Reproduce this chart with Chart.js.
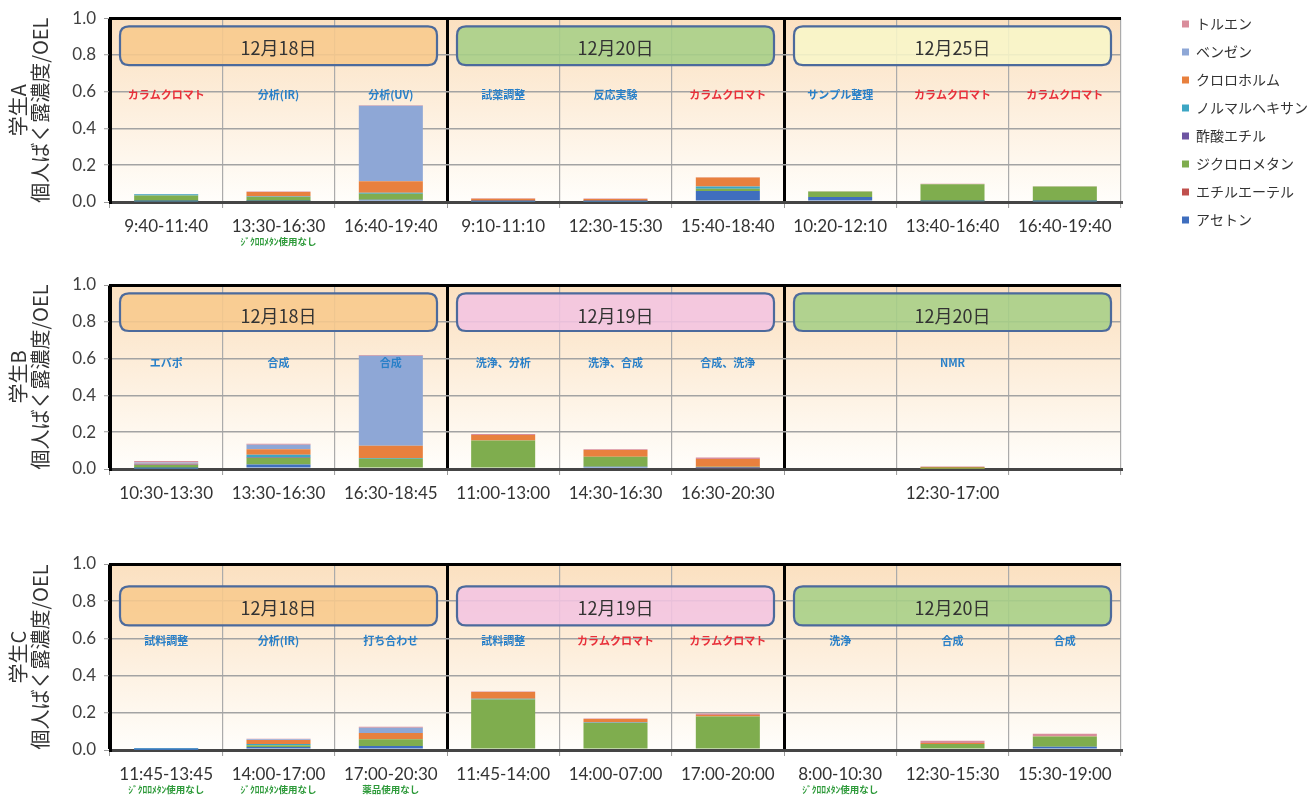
<!DOCTYPE html>
<html><head><meta charset="utf-8">
<script src="https://cdn.jsdelivr.net/npm/chart.js@4.4.1/dist/chart.umd.min.js"></script>
<style>
html,body{margin:0;padding:0;background:#fff;width:1309px;height:802px;overflow:hidden}
canvas{position:absolute;}
</style></head><body>
<canvas id="cA" width="1130" height="262" style="left:0;top:0"></canvas>
<canvas id="cB" width="1130" height="262" style="left:0;top:265px"></canvas>
<canvas id="cC" width="1130" height="257" style="left:0;top:545px"></canvas>
<canvas id="cL" width="340" height="250" style="left:1168px;top:3px"></canvas>
<script>
// ---------- data ----------
const chemicals = ['アセトン','エチルエーテル','ジクロロメタン','酢酸エチル','ノルマルヘキサン','クロロホルム','ベンゼン','トルエン'];

const categoriesA = ['9:40-11:40','13:30-16:30','16:40-19:40','9:10-11:10','12:30-15:30','15:40-18:40','10:20-12:10','13:40-16:40','16:40-19:40'];
const categoriesB = ['10:30-13:30','13:30-16:30','16:30-18:45','11:00-13:00','14:30-16:30','16:30-20:30','','12:30-17:00',''];
const categoriesC = ['11:45-13:45','14:00-17:00','17:00-20:30','11:45-14:00','14:00-07:00','17:00-20:00','8:00-10:30','12:30-15:30','15:30-19:00'];

const datesA = ['12月18日','12月20日','12月25日'];
const datesB = ['12月18日','12月19日','12月20日'];
const datesC = ['12月18日','12月19日','12月20日'];

const tasksA = ['カラムクロマト','分析(IR)','分析(UV)','試薬調整','反応実験','カラムクロマト','サンプル整理','カラムクロマト','カラムクロマト'];
const tasksB = ['エバポ','合成','合成','洗浄、分析','洗浄、合成','合成、洗浄','','NMR',''];
const tasksC = ['試料調整','分析(IR)','打ち合わせ','試料調整','カラムクロマト','カラムクロマト','洗浄','合成','合成'];

const notesA = ['','ｼﾞｸﾛﾛﾒﾀﾝ使用なし','','','','','','',''];
const notesB = ['','','','','','','','',''];
const notesC = ['ｼﾞｸﾛﾛﾒﾀﾝ使用なし','ｼﾞｸﾛﾛﾒﾀﾝ使用なし','薬品使用なし','','','','ｼﾞｸﾛﾛﾒﾀﾝ使用なし','',''];

// Student A
const aAcetone    = [0.003,0.005,0.012,0.002,0.002,0.060,0.027,0.004,0.003];
const aEther      = [0,0,0,0,0,0,0,0,0];
const aDCM        = [0.033,0.022,0.033,0.004,0.004,0.012,0.030,0.093,0.082];
const aEtOAc      = [0,0,0,0,0,0,0,0,0];
const aHexane     = [0.006,0.003,0.005,0,0,0.013,0,0,0];
const aChloroform = [0,0.025,0.063,0.012,0.011,0.048,0,0,0];
const aBenzene    = [0,0,0.410,0,0,0,0,0,0];
const aToluene    = [0.001,0.002,0.004,0.002,0.002,0.002,0.001,0.002,0.001];

// Student B
const bAcetone    = [0.002,0.025,0.008,0,0.012,0.004,null,0,null];
const bEther      = [0,0,0,0,0,0.004,null,0,null];
const bDCM        = [0.020,0.036,0.048,0.155,0.055,0.004,null,0.001,null];
const bEtOAc      = [0.002,0.004,0,0,0,0,null,0,null];
const bHexane     = [0,0.012,0.004,0,0,0,null,0,null];
const bChloroform = [0.004,0.030,0.066,0.030,0.036,0.042,null,0.010,null];
const bBenzene    = [0.008,0.025,0.490,0,0,0,null,0,null];
const bToluene    = [0.008,0.005,0.004,0.005,0.004,0.008,null,0.002,null];

// Student C
const cAcetone    = [0.002,0.016,0.022,0,0,0,null,0,0.018];
const cEther      = [0,0,0,0,0,0,null,0,0];
const cDCM        = [0,0.010,0.036,0.272,0.145,0.180,null,0.032,0.054];
const cEtOAc      = [0,0,0,0,0,0,null,0,0];
const cHexane     = [0.008,0.006,0,0.004,0.003,0,null,0,0];
const cChloroform = [0,0.022,0.033,0.036,0.019,0.008,null,0.006,0.002];
const cBenzene    = [0,0.004,0.028,0,0,0,null,0,0];
const cToluene    = [0,0.003,0.006,0.002,0.002,0.008,null,0.012,0.013];

const yTicks = [0,0.2,0.4,0.6,0.8,1.0];

// ---------- styles ----------
const chemColors = ['#3F6EBE','#C0504D','#7FAD4E','#6E55A2','#3DA6C4','#E8803E','#8EA7D6','#D98D9B'];
const FONT = 'Lato, "Noto Sans CJK JP", sans-serif';
const JP = '"Noto Sans CJK JP", sans-serif';
Chart.defaults.font.family = FONT;

const overlay = {
  id: 'overlay',
  beforeDraw(chart, args, o) {
    if (!o || !o.groups) return;
    const {ctx, chartArea: a} = chart;
    const g = ctx.createLinearGradient(0, a.top, 0, a.bottom);
    g.addColorStop(0, '#FBE0C0');
    g.addColorStop(1, '#FFFEFB');
    ctx.save(); ctx.fillStyle = g;
    ctx.fillRect(a.left, a.top, a.right - a.left, a.bottom - a.top);
    ctx.restore();
  },
  beforeDatasetsDraw(chart, args, o) {
    if (!o || !o.groups) return;
    const {ctx} = chart, x = chart.scales.x, y = chart.scales.y;
    const half = (x.getPixelForValue(1) - x.getPixelForValue(0)) / 2;
    o.groups.forEach((label, gi) => {
      const l = x.getPixelForValue(gi * 3) - half + 10;
      const r = x.getPixelForValue(gi * 3 + 2) + half - 10;
      const t = y.getPixelForValue(o.boxTop), b = y.getPixelForValue(o.boxBottom);
      const rad = 9;
      ctx.save();
      ctx.beginPath();
      ctx.moveTo(l + rad, t); ctx.lineTo(r - rad, t); ctx.quadraticCurveTo(r, t, r, t + rad);
      ctx.lineTo(r, b - rad); ctx.quadraticCurveTo(r, b, r - rad, b);
      ctx.lineTo(l + rad, b); ctx.quadraticCurveTo(l, b, l, b - rad);
      ctx.lineTo(l, t + rad); ctx.quadraticCurveTo(l, t, l + rad, t); ctx.closePath();
      ctx.globalAlpha = 0.88; ctx.fillStyle = o.colors[gi]; ctx.fill();
      ctx.globalAlpha = 1; ctx.lineWidth = 2.2; ctx.strokeStyle = '#4C6A9C'; ctx.stroke();
      ctx.fillStyle = '#333'; ctx.font = '18px ' + JP; ctx.textAlign = 'center'; ctx.textBaseline = 'middle';
      ctx.fillText(label, (l + r) / 2, y.getPixelForValue(o.textY));
      ctx.restore();
    });
  },
  afterDatasetsDraw(chart, args, o) {
    if (!o || !o.tasks) return;
    const {ctx} = chart, x = chart.scales.x, y = chart.scales.y;
    ctx.save();
    ctx.font = 'bold 11px ' + JP; ctx.textAlign = 'center'; ctx.textBaseline = 'middle';
    o.tasks.forEach((t, i) => {
      if (!t) return;
      ctx.fillStyle = t === 'カラムクロマト' ? '#E8303A' : '#2A80C8';
      ctx.fillText(t, x.getPixelForValue(i), y.getPixelForValue(o.taskY));
    });
    ctx.restore();
  },
  afterDraw(chart, args, o) {
    if (!o || !o.notes) return;
    const {ctx} = chart, x = chart.scales.x;
    ctx.save();
    ctx.font = 'bold 9.5px ' + JP; ctx.textAlign = 'center'; ctx.textBaseline = 'middle';
    ctx.fillStyle = '#2E9A3A';
    o.notes.forEach((t, i) => {
      if (!t) return;
      ctx.fillText(t, x.getPixelForValue(i), chart.chartArea.bottom + 39);
    });
    ctx.restore();
  }
};

function makePanel(id, student, cats, series, ov, padTop, plotBottom) {
  const canvas = document.getElementById(id);
  const H = canvas.height;
  return new Chart(canvas, {
    type: 'bar',
    data: {
      labels: cats,
      datasets: chemicals.map((name, k) => ({
        label: name, data: series[k], backgroundColor: chemColors[k], borderWidth: 0,
        categoryPercentage: 1.0, barPercentage: 0.57
      }))
    },
    options: {
      responsive: false, animation: false,
      layout: {padding: {top: padTop, right: 9, bottom: 0, left: 0}},
      plugins: {legend: {display: false}, tooltip: {enabled: false}, overlay: ov},
      scales: {
        x: {
          stacked: true,
          afterFit: s => { s.height = H - plotBottom; },
          grid: {
            offset: true, drawOnChartArea: true, tickLength: 6, tickColor: '#9A9A9A', tickWidth: 1,
            color: c => (c.index === 3 || c.index === 6 || c.index === 0 || c.index === 9) ? '#000' : '#ABABAB',
            lineWidth: c => (c.index === 3 || c.index === 6 || c.index === 0 || c.index === 9) ? 3 : 1.2
          },
          border: {color: '#454545', width: 3},
          ticks: {color: '#333', font: {size: 17}, padding: 8, maxRotation: 0, autoSkip: false}
        },
        y: {
          stacked: true, min: 0, max: 1,
          afterFit: s => { s.width = 110; },
          afterBuildTicks: s => { s.ticks = yTicks.map(v => ({value: v})); },
          grid: {
            tickLength: 6, tickColor: '#9A9A9A', tickWidth: 1,
            color: c => c.index === 5 ? '#000' : (c.index === 0 ? '#454545' : '#A3A3A3'),
            lineWidth: c => (c.index === 5 || c.index === 0) ? 3 : 1.5
          },
          border: {color: '#000', width: 3},
          ticks: {color: '#404040', font: {size: 17}, padding: 8, callback: v => Number(v).toFixed(1)},
          title: {
            display: true, text: [student, '個人ばく露濃度/OEL'], color: '#333',
            font: {size: 20, family: JP, lineHeight: 1.1}, padding: {top: 7, bottom: 0}
          }
        }
      }
    },
    plugins: [overlay]
  });
}

const seriesA = [aAcetone, aEther, aDCM, aEtOAc, aHexane, aChloroform, aBenzene, aToluene];
const seriesB = [bAcetone, bEther, bDCM, bEtOAc, bHexane, bChloroform, bBenzene, bToluene];
const seriesC = [cAcetone, cEther, cDCM, cEtOAc, cHexane, cChloroform, cBenzene, cToluene];

const orange = '#F8C98C', green = '#A6CF86', yellow = '#F8F6C8', pink = '#F3C4E1';

makePanel('cA', '学生A', categoriesA, seriesA,
  {groups: datesA, colors: [orange, green, yellow], boxTop: 0.955, boxBottom: 0.745, textY: 0.835,
   tasks: tasksA, taskY: 0.585, notes: notesA}, 17, 202);
makePanel('cB', '学生B', categoriesB, seriesB,
  {groups: datesB, colors: [orange, pink, green], boxTop: 0.955, boxBottom: 0.75, textY: 0.83,
   tasks: tasksB, taskY: 0.577, notes: notesB}, 20, 204);
makePanel('cC', '学生C', categoriesC, seriesC,
  {groups: datesC, colors: [orange, pink, green], boxTop: 0.88, boxBottom: 0.67, textY: 0.76,
   tasks: tasksC, taskY: 0.588, notes: notesC}, 19, 205);

// legend
new Chart(document.getElementById('cL'), {
  type: 'bar',
  data: {labels: [], datasets: chemicals.map((name, k) => ({label: name, data: [], backgroundColor: chemColors[k], borderWidth: 0}))},
  options: {
    responsive: false, animation: false,
    layout: {padding: 0},
    scales: {x: {display: false}, y: {display: false}},
    plugins: {
      tooltip: {enabled: false},
      legend: {
        position: 'left', align: 'start', reverse: true,
        labels: {boxWidth: 7, boxHeight: 7, padding: 14, color: '#333', font: {size: 14, family: JP}}
      }
    }
  }
});
</script>
</body></html>
